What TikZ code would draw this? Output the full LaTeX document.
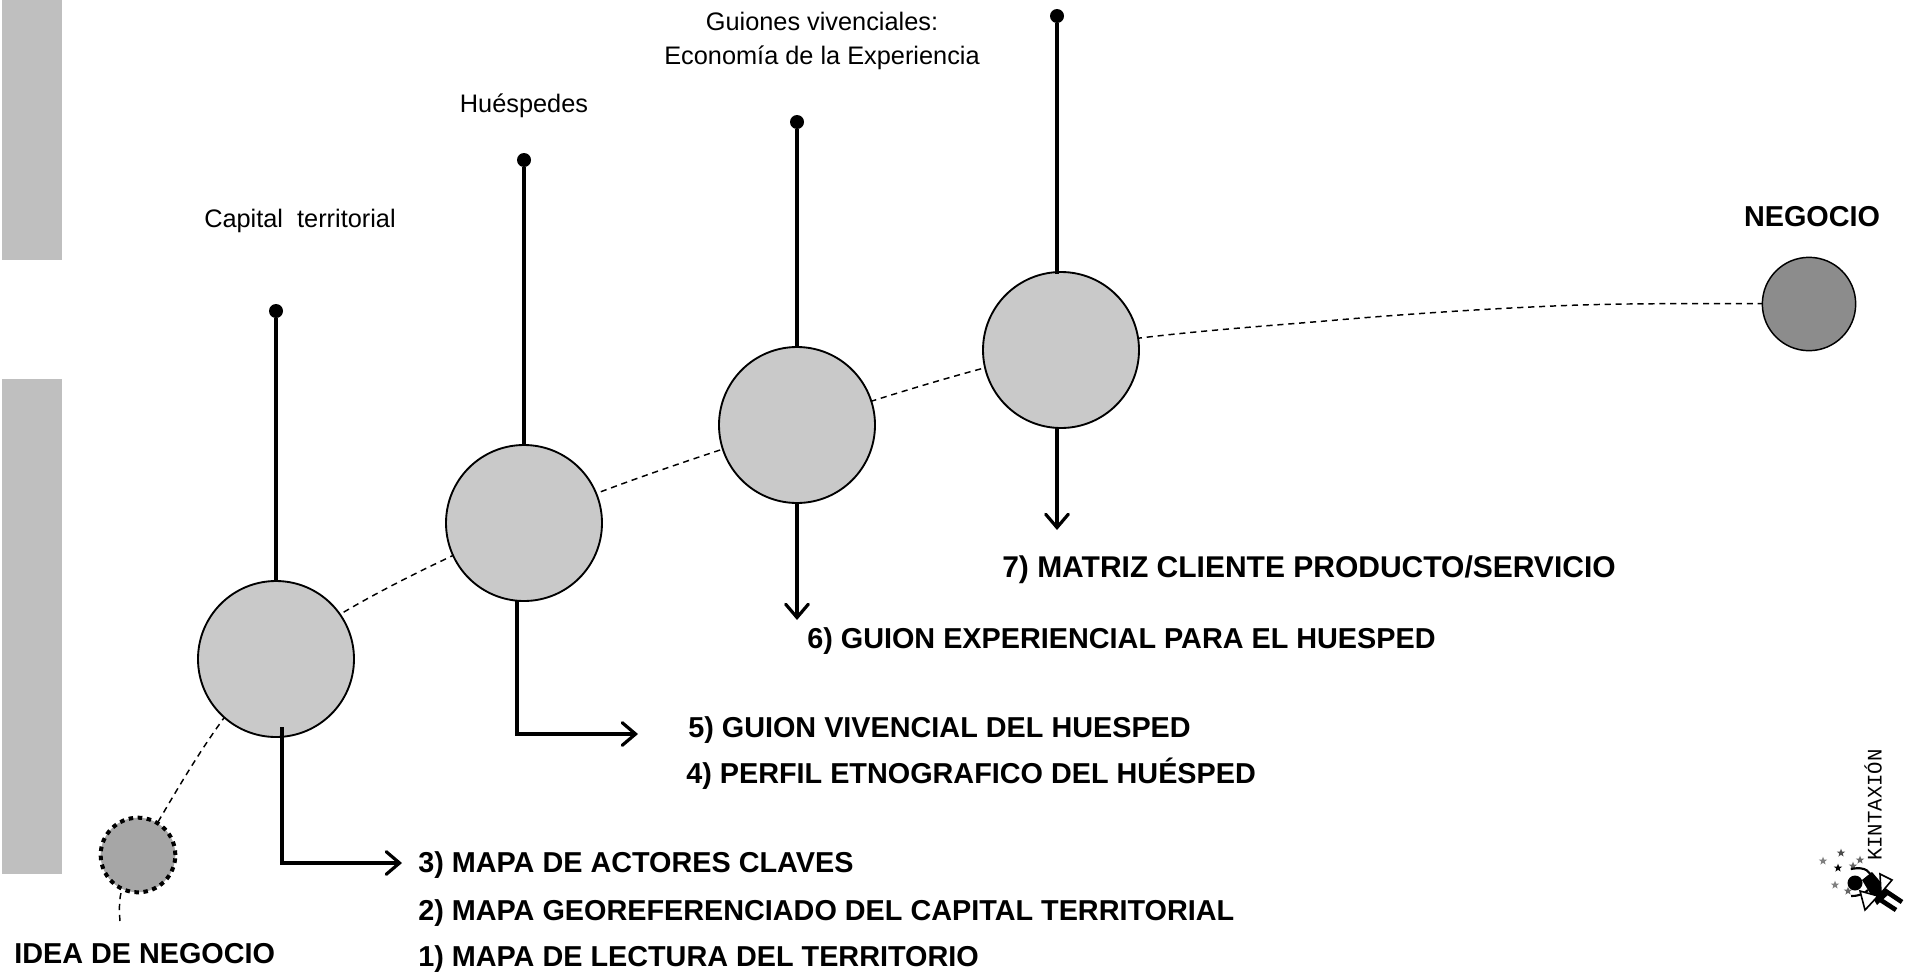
\documentclass[tikz,border=0pt]{standalone}
\usepackage{fontspec}
\setmainfont{Liberation Sans}
\newfontfamily\logofont{Liberation Mono}
\usetikzlibrary{arrows.meta,shapes.geometric}
\definecolor{bolaC}{HTML}{C9C9C9}
\definecolor{bolaB}{HTML}{BBBBBB}
\definecolor{bolaD}{HTML}{DDDDDD}
\definecolor{oscuraC}{HTML}{8C8C8C}
\definecolor{oscuraB}{HTML}{7E7E7E}
\definecolor{oscuraD}{HTML}{B0B0B0}
\definecolor{banda}{HTML}{BFBFBF}
\definecolor{ideagris}{HTML}{A6A6A6}
\pgfdeclareradialshading{bolagris}{\pgfpoint{0bp}{-5bp}}{%
  color(0bp)=(bolaC); color(37bp)=(bolaC); color(44bp)=(bolaB); color(50bp)=(bolaD); color(55bp)=(white)}
\pgfdeclareradialshading{bolaoscura}{\pgfpoint{0bp}{-5bp}}{%
  color(0bp)=(oscuraC); color(37bp)=(oscuraC); color(46bp)=(oscuraB); color(55bp)=(oscuraD)}
\tikzset{
  bola/.style={circle,draw=black,line width=1.4pt,inner sep=0pt,minimum size=117pt,shading=bolagris},
  negocio/.style={circle,draw=black,line width=1.1pt,inner sep=0pt,minimum size=70pt,shading=bolaoscura},
  idea/.style={circle,draw=black,fill=ideagris,line width=3pt,dash pattern=on 3.4pt off 3.4pt,inner sep=0pt,minimum size=56pt},
  punto/.style={circle,fill=black,inner sep=0pt,minimum size=10.5pt},
  vara/.style={line width=2.4pt},
  flecha/.style={line width=2.4pt,line join=miter,-{Straight Barb[length=10pt,width=17pt,line cap=round]}},
  curva/.style={line width=1.1pt,dash pattern=on 4.6pt off 3.6pt},
  etapa/.style={font=\fontsize{19}{19}\selectfont,inner sep=0pt,align=center},
  paso/.style={font=\bfseries\fontsize{21.6}{21.6}\selectfont,inner sep=0pt,anchor=base west},
  estrella/.style={star,star points=5,star point ratio=2.4,fill=#1,inner sep=0pt,minimum size=6.5pt}
}
\begin{document}
\begin{tikzpicture}[x=0.75pt,y=-0.75pt,>=stealth]
\useasboundingbox (0,0) rectangle (1906,971);
% bandas laterales
\fill[banda] (2,0) rectangle (62,260);
\fill[banda] (2,379) rectangle (62,874);
% centros
\coordinate (pI) at (138,855);
\coordinate (pA) at (276,659);
\coordinate (pB) at (524,523);
\coordinate (pC) at (797,425);
\coordinate (pD) at (1061,350);
\coordinate (pN) at (1809,304);
\draw[curva] plot[smooth,tension=0.55] coordinates {(120,921) (121,893) (pI) (pA) (pB) (pC) (pD) (1337,320) (1580,305) (pN)};
% bolas
\node[idea] (idea) at (pI) {};
\node[bola] (cA) at (pA) {};
\node[bola] (cB) at (pB) {};
\node[bola] (cC) at (pC) {};
\node[bola] (cD) at (pD) {};
\node[negocio] (cN) at (pN) {};
% varas con punto
\node[punto] (dA) at (276,311) {};
\node[punto] (dB) at (524,160) {};
\node[punto] (dC) at (797,122) {};
\node[punto] (dD) at (1057,16) {};
\draw[vara] (dA) -- (cA.north);
\draw[vara] (dB) -- (cB.north);
\draw[vara] (dC) -- (cC.north);
\draw[vara] (dD) -- (1057,274) coordinate (eD);
% flechas
\coordinate (fA) at (282,727);
\coordinate (gA) at (402,863);
\coordinate (fB) at (517,600);
\coordinate (gB) at (638,734);
\coordinate (fC) at (797,503);
\coordinate (gC) at (797,620);
\coordinate (fD) at (1057,428);
\coordinate (gD) at (1057,530);
\draw[flecha] (fA) |- (gA);
\draw[flecha] (fB) |- (gB);
\draw[flecha] (fC) -- (gC);
\draw[flecha] (fD) -- (gD);
% textos
\node[etapa] (tA) at (300,221) {Capital\ \ territorial};
\node[etapa] (tB) at (524,106) {Huéspedes};
\node[etapa] (tC) at (822,41) {Guiones vivenciales:\\[7pt]Economía de la Experiencia};
\node[paso,anchor=base] (tN) at (1812,226) {NEGOCIO};
\node[paso] (iN) at (14,963) {IDEA DE NEGOCIO};
\node[paso,font=\bfseries\fontsize{22.5}{22.5}\selectfont] (p7) at (1002,577) {7) MATRIZ CLIENTE PRODUCTO/SERVICIO};
\node[paso] (p6) at (807,648) {6) GUION EXPERIENCIAL PARA EL HUESPED};
\node[paso] (p5) at (688,737) {5) GUION VIVENCIAL DEL HUESPED};
\node[paso] (p4) at (686,783) {4) PERFIL ETNOGRAFICO DEL HUÉSPED};
\node[paso] (p3) at (418,872) {3) MAPA DE ACTORES CLAVES};
\node[paso] (p2) at (418,920) {2) MAPA GEOREFERENCIADO DEL CAPITAL TERRITORIAL};
\node[paso] (p1) at (418,966) {1) MAPA DE LECTURA DEL TERRITORIO};
% logo
\node[rotate=90,inner sep=0pt,font=\logofont\fontsize{15.5}{15.5}\selectfont] (logo) at (1873,805) {KINTAXIÓN};
\foreach \n/\x/\y/\c in {a/1823/861/gray,b/1841/853/black!70,c/1860/860/black!60,d/1853/866/black!60,e/1838/868/black,f/1835/885/black!50,g/1848/891/black!60}
  \node[estrella=\c] (s\n) at (\x,\y) {};
\fill[black] (1855,883) circle (7.5);
\draw[line width=1.6pt] (1851,869) .. controls (1866,866) and (1870,872) .. (1872,878);
\draw[line width=1.6pt] (1851,896) .. controls (1859,896) and (1864,894) .. (1868,890);
\fill[black] (1872,872) -- (1890,893) -- (1877,905) -- (1862,880) -- cycle;
\draw[line width=1.2pt,fill=white] (1880,874) -- (1892,880) -- (1881,893) -- cycle;
\draw[line width=1.2pt,fill=white] (1860,891) -- (1865,910) -- (1878,896) -- cycle;
\draw[line width=3.5pt] (1884,890) -- (1902,902);
\draw[line width=3.5pt] (1876,897) -- (1896,910);
\end{tikzpicture}
\end{document}
